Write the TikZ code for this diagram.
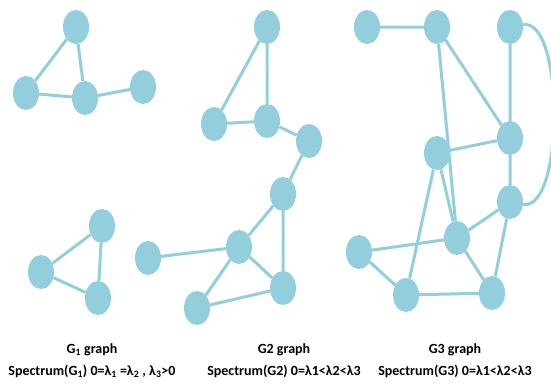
\documentclass[tikz,border=0pt]{standalone}
\usepackage{fontspec}
\setmainfont{Carlito}
\usetikzlibrary{shapes.geometric}
\definecolor{nodeblue}{HTML}{93CEDC}
\tikzset{
  vtx/.style={ellipse,fill=nodeblue,draw=none,minimum width=26pt,minimum height=34pt,inner sep=0pt},
  lnk/.style={draw=nodeblue,line width=3pt},
  caption/.style={align=center,font=\bfseries\fontsize{14}{22}\selectfont}
}
\begin{document}
\begin{tikzpicture}[x=1pt,y=-1pt]
        \useasboundingbox (0,0) rectangle (551,383);

        % G1, two pieces
        \node[vtx] (a1) at (76,27) {};
        \node[vtx] (a2) at (26,93) {};
        \node[vtx] (a3) at (85,98) {};
        \node[vtx] (a4) at (143,87) {};
        \node[vtx] (b1) at (102,226) {};
        \node[vtx] (b2) at (41,272) {};
        \node[vtx] (b3) at (98,298) {};
        \draw[lnk] (a1) -- (a2) (a1) -- (a3) (a2) -- (a3) (a3) -- (a4);
        \draw[lnk] (b1) -- (b2) (b1) -- (b3) (b2) -- (b3);

        % G2
        \node[vtx] (c1) at (267,27) {};
        \node[vtx] (c2) at (214,124) {};
        \node[vtx] (c3) at (267,121) {};
        \node[vtx] (c4) at (309,141) {};
        \node[vtx] (c5) at (283,194) {};
        \node[vtx] (c6) at (239,247) {};
        \node[vtx] (c7) at (148,258) {};
        \node[vtx] (c8) at (283,288) {};
        \node[vtx] (c9) at (197,308) {};
        \draw[lnk] (c1) -- (c2) (c1) -- (c3) (c2) -- (c3) (c3) -- (c4) (c4) -- (c5);
        \draw[lnk] (c5) -- (c6) (c5) -- (c8) (c6) -- (c7) (c6) -- (c8) (c6) -- (c9) (c9) -- (c8);

        % G3
        \node[vtx] (d1) at (367,27) {};
        \node[vtx] (d2) at (437,27) {};
        \node[vtx] (d3) at (510,27) {};
        \node[vtx] (d4) at (510,138) {};
        \node[vtx] (d5) at (437,153) {};
        \node[vtx] (d6) at (510,202) {};
        \node[vtx] (d7) at (457,238) {};
        \node[vtx] (d8) at (359,252) {};
        \node[vtx] (d9) at (406,295) {};
        \node[vtx] (d10) at (492,293) {};
        \draw[lnk] (d1) -- (d2) (d2) -- (d4) (d2) -- (d7) (d3) -- (d4) (d4) -- (d5) (d4) -- (d6);
        \draw[lnk] (d5) -- (d7) (d5) -- (d9) (d6) -- (d7) (d6) -- (d10) (d7) -- (d8) (d7) -- (d10);
        \draw[lnk] (d8) -- (d9) (d9) -- (d10);
        \draw[lnk] (d3) to[out=10,in=-10,looseness=0.6] (d6);

        % captions
        \node[caption] (t1) at (92,361) {G\textsubscript{1} graph\\Spectrum(G\textsubscript{1}) 0=λ\textsubscript{1} =λ\textsubscript{2} , λ\textsubscript{3}>0};
        \node[caption] (t2) at (284,361) {G2 graph\\Spectrum(G2) 0=λ1<λ2<λ3};
        \node[caption] (t3) at (455,361) {G3 graph\\Spectrum(G3) 0=λ1<λ2<λ3};
\end{tikzpicture}
\end{document}
